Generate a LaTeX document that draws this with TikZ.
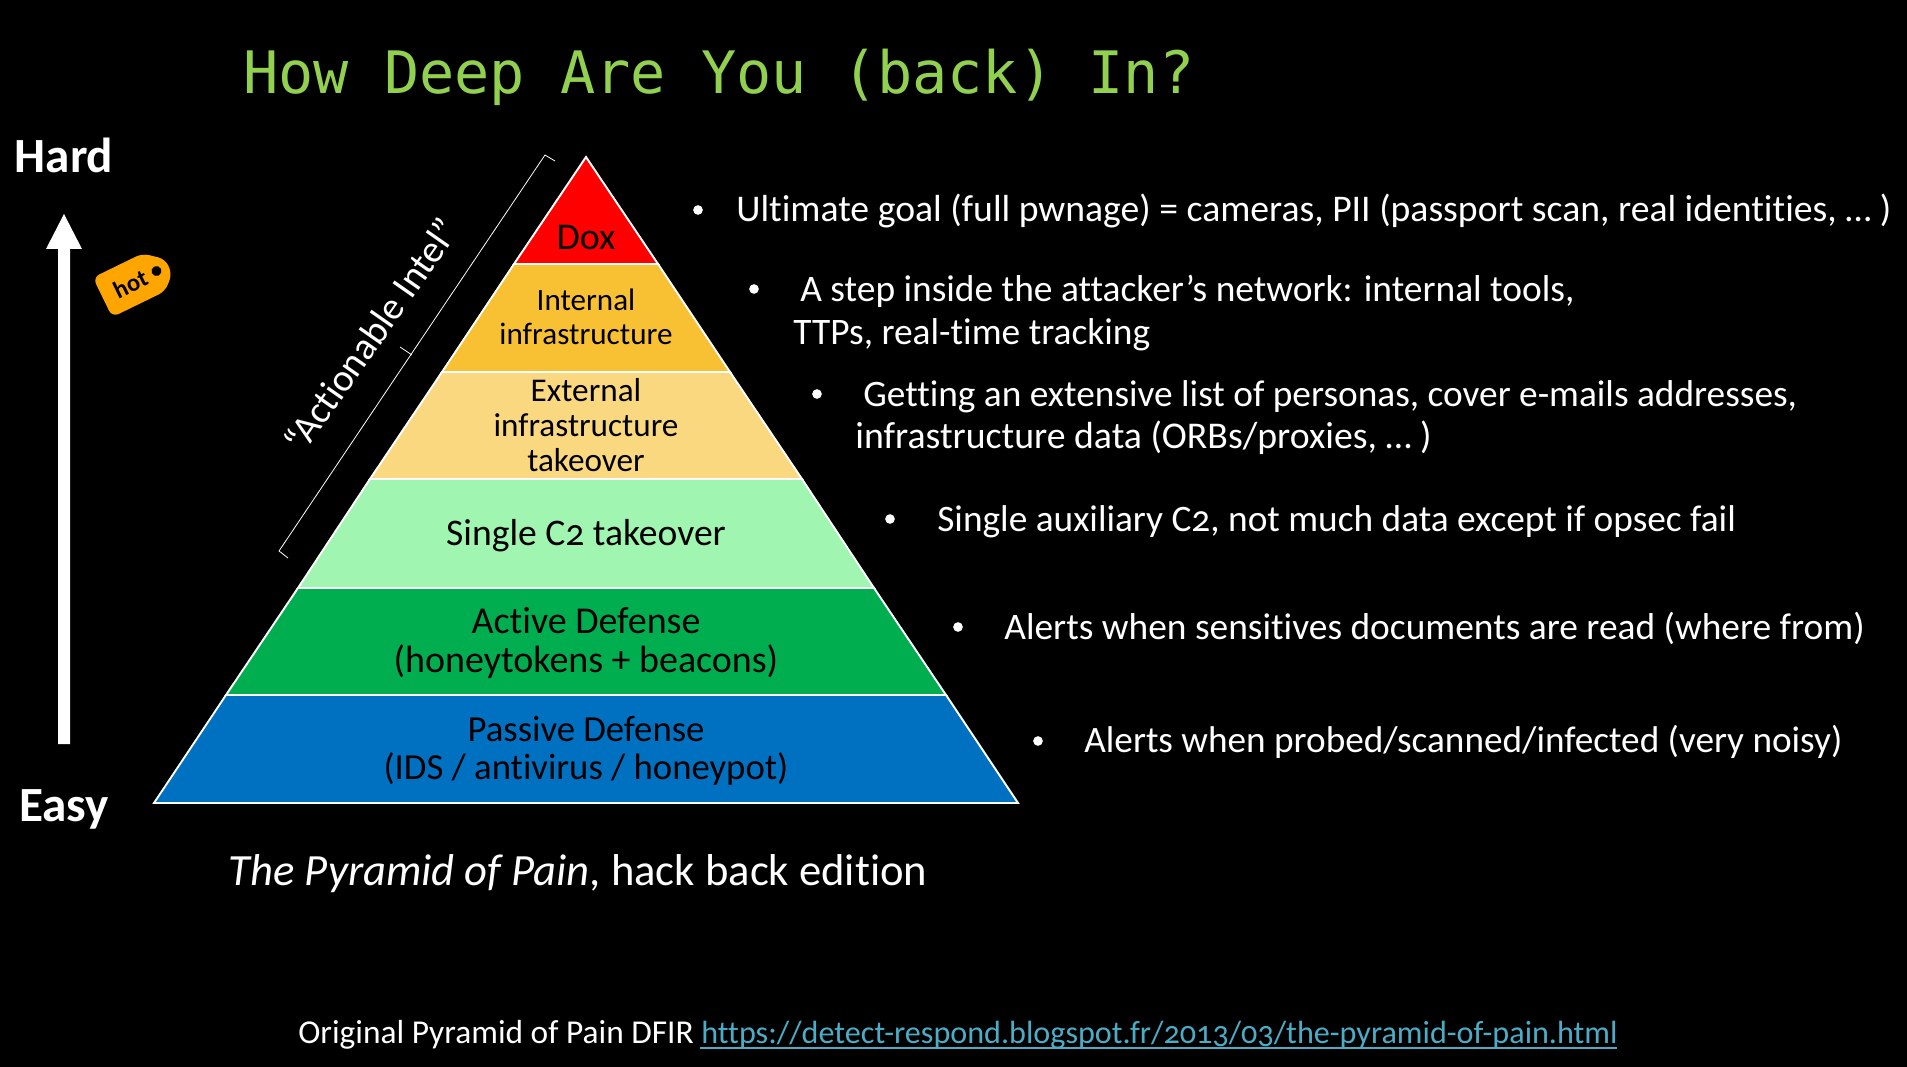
\documentclass[tikz,border=0pt]{standalone}
\usepackage{fontspec}
\setmainfont{Carlito}[Numbers=OldStyle,Ligatures=NoCommon]
\newfontfamily\titlefont{DejaVu Sans Mono}
\definecolor{titlegreen}{HTML}{92D050}
\definecolor{linkblue}{HTML}{4BACC6}
\definecolor{lvlred}{HTML}{FF0000}
\definecolor{lvlorange}{HTML}{F8C133}
\definecolor{lvlyellow}{HTML}{FAD87F}
\definecolor{lvlmint}{HTML}{A0F5B0}
\definecolor{lvlgreen}{HTML}{00AE4F}
\definecolor{lvlblue}{HTML}{0070C0}
\definecolor{tagorange}{HTML}{FFA500}
\newcommand{\fs}[1]{\fontsize{#1}{#1}\selectfont}
\tikzset{
  x=0.02cm,y=-0.02cm,
  band/.style={draw=white,line width=1.1pt,line join=miter},
  bandtext/.style={text=black,align=center,font=\fs{19}},
  bullet/.style={text=white,anchor=base west,inner sep=0pt,font=\fs{21.3}},
  dot/.style={circle,fill=white,inner sep=0pt,minimum size=5.5pt},
  bracketline/.style={draw=white,line width=0.45pt},
  sidelabel/.style={text=white,font=\bfseries\fs{28}},
}
\begin{document}
\begin{tikzpicture}
\useasboundingbox (0,0) rectangle (1907,1067);
\fill[black] (0,0) rectangle (1907,1067);
\node[text=titlegreen,anchor=base west,inner sep=0pt,font=\titlefont\fs{33.3}] (title) at (243,94) {How Deep Are You (back) In?};
% pyramid
\coordinate (apex) at (586,157);
\coordinate (l1) at (514,264); \coordinate (r1) at (658,264);
\coordinate (l2) at (442,372); \coordinate (r2) at (730,372);
\coordinate (l3) at (370,479); \coordinate (r3) at (802,479);
\coordinate (l4) at (298,588); \coordinate (r4) at (874,588);
\coordinate (l5) at (226,695); \coordinate (r5) at (946,695);
\coordinate (l6) at (154,803); \coordinate (r6) at (1018,803);
\filldraw[band,fill=lvlred] (apex)--(r1)--(l1)--cycle;
\filldraw[band,fill=lvlorange] (l1)--(r1)--(r2)--(l2)--cycle;
\filldraw[band,fill=lvlyellow] (l2)--(r2)--(r3)--(l3)--cycle;
\filldraw[band,fill=lvlmint] (l3)--(r3)--(r4)--(l4)--cycle;
\filldraw[band,fill=lvlgreen] (l4)--(r4)--(r5)--(l5)--cycle;
\filldraw[band,fill=lvlblue] (l5)--(r5)--(r6)--(l6)--cycle;
\node[bandtext,font=\fs{21.5}] (dox) at (586,238) {Dox};
\node[bandtext,font=\fs{17.7},inner sep=0pt] (internal) at (586,317) {Internal\\[2pt]infrastructure};
\node[bandtext,font=\fs{18.9},inner sep=0pt] (external) at (586,425) {External\\[1.2pt]infrastructure\\[1.2pt]takeover};
\node[bandtext,font=\fs{21.4}] (single) at (586,536) {Single C2 takeover};
\node[bandtext,font=\fs{21.6},inner sep=0pt] (active) at (586,643) {Active Defense\\[0.4pt](honeytokens + beacons)};
\node[bandtext,font=\fs{20.9},inner sep=0pt] (passive) at (586,751) {Passive Defense\\[1pt](IDS / antivirus / honeypot)};
\node[text=white,anchor=base,font=\fs{25.4}] (caption) at (578,885) {\itshape The Pyramid of Pain\upshape, hack back edition};
\node[anchor=base west,text=white,inner sep=0pt,font=\fs{19}] (orig) at (298,1043) {Original Pyramid of Pain DFIR \fs{18.3}\textcolor{linkblue}{https://detect-respond.blogspot.fr/2013/03/the-pyramid-of-pain.html}};
\coordinate (ulstart) at (700,1048); \coordinate (ulend) at (1617,1048);
\draw[linkblue,line width=0.6pt] (ulstart)--(ulend);
% side arrow
\node[sidelabel] (hard) at (64,155) {Hard};
\node[sidelabel] (easy) at (64,809) {Easy};
\fill[white] (58,744)--(58,249)--(46,249)--(64,214)--(82,249)--(70,249)--(70,744)--cycle;
% tag
\begin{scope}[shift={(134,282)},rotate=26]
\fill[tagorange,rounded corners=4pt] (-35,-22)--(20,-22)--(38,-7)--(38,9)--(24,22)--(-35,22)--cycle;
\fill[black] (25,0) circle[radius=5];
\node[text=black,font=\bfseries\fs{14},inner sep=0pt,rotate=26] (hot) at (-4,0) {hot};
\end{scope}
% bracket
\coordinate (b0) at (288,558); \coordinate (b1) at (279,551);
\coordinate (b2) at (545,155); \coordinate (b3) at (555,161);
\coordinate (bm) at (412,355); \coordinate (bn) at (400,347);
\draw[bracketline] (b0) -- (b1) -- (b2) -- (b3);
\draw[bracketline] (bm) -- (bn);
\node[text=white,rotate=55,font=\fs{21.9},inner sep=0pt] (intel) at (371,335) {“Actionable Intel”};
% right bullets
\node[dot] (d1) at (698,210) {};
\node[bullet,font=\fs{21.45}] (t1) at (736,222) {Ultimate goal (full pwnage) = cameras, PII (passport scan, real identities, … )};
\node[dot] (d2) at (754,289) {};
\node[bullet] (t2) at (800,302) {A step inside the attacker’s network: internal tools,};
\node[bullet] (t2b) at (793,345) {TTPs, real-time tracking};
\node[dot] (d3) at (817,394) {};
\node[bullet,font=\fs{21.25}] (t3) at (863,407) {Getting an extensive list of personas, cover e-mails addresses,};
\node[bullet,font=\fs{21.5}] (t3b) at (855,449) {infrastructure data (ORBs/proxies, … )};
\node[dot] (d4) at (890,519) {};
\node[bullet,font=\fs{21.25}] (t4) at (937,531) {Single auxiliary C2, not much data except if opsec fail};
\node[dot] (d5) at (958,627) {};
\node[bullet,font=\fs{21.3}] (t5) at (1004,639) {Alerts when sensitives documents are read (where from)};
\node[dot] (d6) at (1038,741) {};
\node[bullet,font=\fs{21.2}] (t6) at (1084,752) {Alerts when probed/scanned/infected (very noisy)};
\end{tikzpicture}
\end{document}
